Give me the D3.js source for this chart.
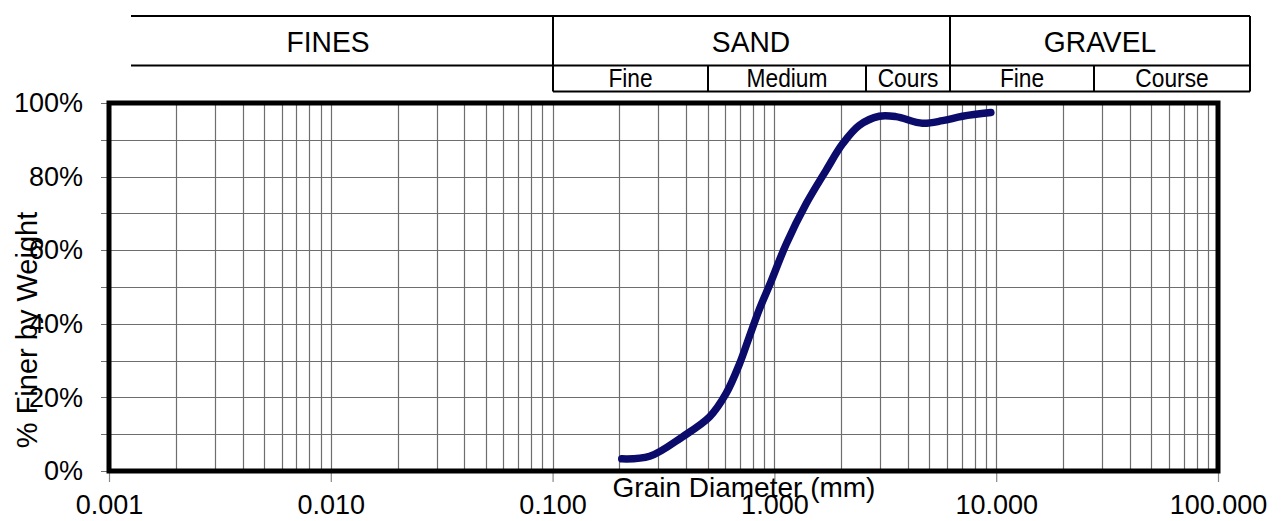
<!DOCTYPE html>
<html>
<head>
<meta charset="utf-8">
<script src="https://cdn.jsdelivr.net/npm/d3@7"></script>
<style>
  html, body { margin: 0; padding: 0; background: #fff; }
  svg { display: block; font-family: "Liberation Sans", Arial, Helvetica, sans-serif; }
</style>
</head>
<body>
<svg id="chart" width="1284" height="521"></svg>
<script>
// Grain size distribution: sieve diameter (mm) vs percent passing
const diameters = [0.205, 0.274, 0.385, 0.51, 0.605, 0.695, 0.771, 0.856, 0.966, 1.127, 1.39, 1.71, 2.03, 2.41, 2.97, 3.53, 4.65, 5.73, 7.05, 9.46];
const percentFiner = [0.033, 0.040, 0.093, 0.147, 0.21, 0.29, 0.365, 0.44, 0.515, 0.615, 0.726, 0.817, 0.889, 0.939, 0.964, 0.963, 0.945, 0.952, 0.964, 0.974];

const xTickValues = [0.001, 0.01, 0.1, 1, 10, 100];
const yTickValues = [0, 0.2, 0.4, 0.6, 0.8, 1.0];

// Soil classification header: top row groups and sub-row classes
const groupLabels = ["FINES", "SAND", "GRAVEL"];
const subLabels = ["Fine", "Medium", "Cours", "Fine", "Course"];

const svg = d3.select("#chart");
const plot = { left: 109, right: 1218, top: 103, bottom: 471 };

const x = d3.scaleLog().domain([0.001, 100]).range([plot.left, plot.right]);
const y = d3.scaleLinear().domain([0, 1]).range([plot.bottom, plot.top]);

// ---- header table ----
const header = svg.append("g").attr("class", "header");
const hdr = { top: 16, mid: 65.5, bottom: 91.5 };
const groupEdges = [131, 553, 950, 1250];
const groupLabelX = [328, 751, 1100];
const subEdges = [553, 708, 866, 950, 1094, 1250];
const hline = (x1, x2, yy) => header.append("line")
  .attr("x1", x1).attr("x2", x2).attr("y1", yy).attr("y2", yy)
  .attr("stroke", "#000").attr("stroke-width", 2);
const vline = (xx, y1, y2) => header.append("line")
  .attr("x1", xx).attr("x2", xx).attr("y1", y1).attr("y2", y2)
  .attr("stroke", "#000").attr("stroke-width", 2);

hline(groupEdges[0], groupEdges[3], hdr.top);
hline(groupEdges[0], groupEdges[3], hdr.mid);
hline(subEdges[0], subEdges[5], hdr.bottom);
vline(groupEdges[1], hdr.top, hdr.bottom);
vline(groupEdges[2], hdr.top, hdr.bottom);
vline(groupEdges[3], hdr.top, hdr.bottom);
subEdges.slice(1, -1).forEach(e => vline(e, hdr.mid, hdr.bottom));

groupLabels.forEach((t, i) => {
  header.append("text")
    .attr("transform", `translate(${groupLabelX[i]},52) scale(0.94,1)`)
    .attr("text-anchor", "middle")
    .attr("font-size", 30)
    .text(t);
});
subLabels.forEach((t, i) => {
  const cx = (subEdges[i] + subEdges[i + 1]) / 2;
  header.append("text")
    .attr("transform", `translate(${cx},87) scale(0.91,1)`)
    .attr("text-anchor", "middle")
    .attr("font-size", 25)
    .text(t);
});

// ---- grid ----
const gridX = [];
for (let k = -3; k <= 1; k++) {
  for (let n = 1; n <= 9; n++) gridX.push(n * Math.pow(10, k));
}
gridX.push(100);
const gridY = d3.range(0, 11).map(v => v / 10);

const grid = svg.append("g").attr("class", "grid");
grid.selectAll("line.v").data(gridX).join("line")
  .attr("class", "v")
  .attr("x1", d => Math.round(x(d)) + 0.5).attr("x2", d => Math.round(x(d)) + 0.5)
  .attr("y1", plot.top).attr("y2", plot.bottom)
  .attr("stroke", "#6e6e6e").attr("stroke-width", 1.2);
grid.selectAll("line.h").data(gridY).join("line")
  .attr("class", "h")
  .attr("x1", plot.left - 8).attr("x2", plot.right)
  .attr("y1", d => Math.round(y(d)) + 0.5).attr("y2", d => Math.round(y(d)) + 0.5)
  .attr("stroke", "#6e6e6e").attr("stroke-width", 1.2);

// ---- axes ----
const xAxis = d3.axisBottom(x)
  .tickValues(xTickValues)
  .tickFormat(d3.format(".3f"))
  .tickSize(11)
  .tickPadding(13);
svg.append("g")
  .attr("transform", `translate(0,${plot.bottom})`)
  .call(xAxis)
  .call(g => g.select(".domain").remove())
  .call(g => g.selectAll(".tick line").attr("stroke", "#888").attr("stroke-width", 1.2))
  .call(g => g.selectAll(".tick text")
    .attr("font-size", 27).attr("fill", "#000")
    .attr("font-family", "Liberation Sans, Arial, sans-serif"));

const yAxis = d3.axisLeft(y)
  .tickValues(yTickValues)
  .tickFormat(d3.format(".0%"))
  .tickSize(0)
  .tickPadding(26);
svg.append("g")
  .attr("transform", `translate(${plot.left},0)`)
  .call(yAxis)
  .call(g => g.select(".domain").remove())
  .call(g => g.selectAll(".tick text")
    .attr("font-size", 27).attr("fill", "#000")
    .attr("font-family", "Liberation Sans, Arial, sans-serif"));

// ---- plot frame ----
svg.append("rect")
  .attr("x", plot.left).attr("y", plot.top)
  .attr("width", plot.right - plot.left).attr("height", plot.bottom - plot.top)
  .attr("fill", "none").attr("stroke", "#000").attr("stroke-width", 5);

// ---- gradation curve ----
const pts = diameters.map((d, i) => [d, percentFiner[i]]);
const line = d3.line()
  .x(d => x(d[0]))
  .y(d => y(d[1]))
  .curve(d3.curveCatmullRom.alpha(0.5));
svg.append("path")
  .datum(pts)
  .attr("d", line)
  .attr("fill", "none")
  .attr("stroke", "#0b0b6b")
  .attr("stroke-width", 7.5)
  .attr("stroke-linecap", "round")
  .attr("stroke-linejoin", "round");

// ---- axis titles ----
svg.append("text")
  .attr("x", 744).attr("y", 497)
  .attr("text-anchor", "middle")
  .attr("font-size", 28)
  .text("Grain Diameter (mm)");

svg.append("text")
  .attr("transform", "translate(37,330) rotate(-90)")
  .attr("text-anchor", "middle")
  .attr("font-size", 29)
  .text("% Finer by Weight");
</script>
</body>
</html>
